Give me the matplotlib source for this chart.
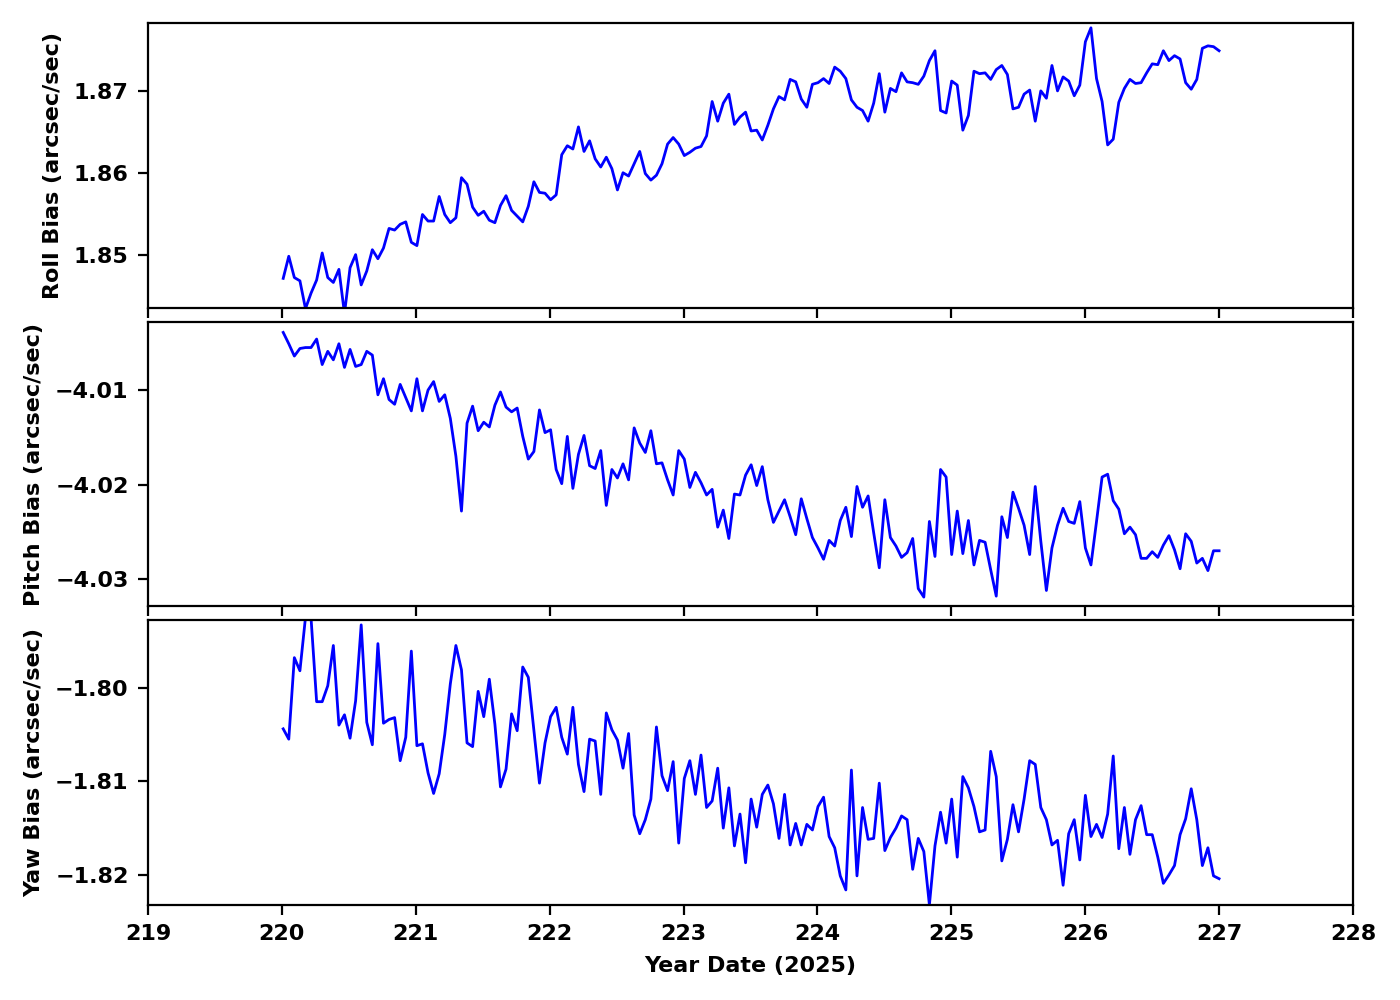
import matplotlib
matplotlib.use("Agg")
import matplotlib.pyplot as plt
import numpy as np

# hourly gyro bias values, day 220.01 -> 227.0 (2025)
t_start = 220.01
t_end = 227.0

roll = [
    1.8471, 1.8498, 1.8472, 1.8468, 1.8434, 1.8453, 1.8469, 1.8502, 1.8472, 1.8466,
    1.8482, 1.8428, 1.8484, 1.8500, 1.8463, 1.8480, 1.8506, 1.8495, 1.8508, 1.8532,
    1.8530, 1.8537, 1.8540, 1.8515, 1.8511, 1.8549, 1.8541, 1.8541, 1.8571, 1.8549,
    1.8539, 1.8545, 1.8594, 1.8586, 1.8558, 1.8548, 1.8553, 1.8542, 1.8539, 1.8560,
    1.8572, 1.8554, 1.8547, 1.8540, 1.8559, 1.8589, 1.8576, 1.8575, 1.8567, 1.8573,
    1.8622, 1.8633, 1.8629, 1.8656, 1.8626, 1.8639, 1.8617, 1.8607,
    1.8619, 1.8605, 1.8579, 1.8600, 1.8596, 1.8611, 1.8626, 1.8599, 1.8591, 1.8597,
    1.8611, 1.8635, 1.8643, 1.8635, 1.8621, 1.8625, 1.8630, 1.8632, 1.8645, 1.8687,
    1.8663, 1.8685, 1.8696, 1.8659, 1.8668, 1.8674, 1.8651, 1.8652, 1.8640, 1.8658,
    1.8678, 1.8693, 1.8689, 1.8714, 1.8711, 1.8690, 1.8680, 1.8708, 1.8710, 1.8715,
    1.8709, 1.8729, 1.8724, 1.8715, 1.8689, 1.8680, 1.8676, 1.8663, 1.8685, 1.8721,
    1.8674, 1.8703, 1.8699, 1.8722, 1.8711, 1.8710, 1.8708,
    1.8718, 1.8737, 1.8749, 1.8676, 1.8673, 1.8712, 1.8707, 1.8652, 1.8670, 1.8724,
    1.8721, 1.8722, 1.8714, 1.8726, 1.8731, 1.8720, 1.8678, 1.8680, 1.8696, 1.8701,
    1.8663, 1.8700, 1.8691, 1.8731, 1.8700, 1.8717, 1.8712, 1.8694, 1.8707, 1.8760,
    1.8777, 1.8715, 1.8687, 1.8634, 1.8641, 1.8686, 1.8703, 1.8714, 1.8709, 1.8710,
    1.8722, 1.8733, 1.8732, 1.8749, 1.8737, 1.8743, 1.8739, 1.8710, 1.8702, 1.8714,
    1.8752, 1.8755, 1.8754, 1.8749,
]

pitch = [
    -4.0039, -4.0051, -4.0064, -4.0056, -4.0055, -4.0055, -4.0046, -4.0073, -4.0059, -4.0068,
    -4.0051, -4.0076, -4.0057, -4.0075, -4.0073, -4.0059, -4.0063, -4.0105, -4.0088, -4.0110,
    -4.0115, -4.0094, -4.0108, -4.0122, -4.0088, -4.0122, -4.0100, -4.0091, -4.0112, -4.0105,
    -4.0130, -4.0170, -4.0228, -4.0135, -4.0117, -4.0143, -4.0134, -4.0139, -4.0116, -4.0102,
    -4.0118, -4.0123, -4.0119, -4.0149, -4.0173, -4.0165, -4.0121, -4.0145, -4.0142, -4.0184,
    -4.0199, -4.0149, -4.0204, -4.0168, -4.0148, -4.0180, -4.0183, -4.0164,
    -4.0222, -4.0184, -4.0193, -4.0178, -4.0195, -4.0140, -4.0156, -4.0166, -4.0143, -4.0178,
    -4.0177, -4.0195, -4.0211, -4.0164, -4.0173, -4.0203, -4.0187, -4.0198, -4.0211, -4.0205,
    -4.0245, -4.0227, -4.0257, -4.0210, -4.0211, -4.0190, -4.0179, -4.0201, -4.0181, -4.0216,
    -4.0240, -4.0228, -4.0216, -4.0234, -4.0253, -4.0215, -4.0236, -4.0256, -4.0267, -4.0279,
    -4.0259, -4.0265, -4.0238, -4.0224, -4.0255, -4.0202, -4.0224, -4.0212, -4.0251, -4.0288,
    -4.0216, -4.0256, -4.0265, -4.0277, -4.0272, -4.0257, -4.0310,
    -4.0319, -4.0239, -4.0276, -4.0184, -4.0192, -4.0274, -4.0228, -4.0273, -4.0238, -4.0285,
    -4.0259, -4.0261, -4.0290, -4.0318, -4.0234, -4.0256, -4.0208, -4.0225, -4.0243, -4.0274,
    -4.0202, -4.0260, -4.0312, -4.0267, -4.0243, -4.0225, -4.0239, -4.0241, -4.0218, -4.0267,
    -4.0285, -4.0239, -4.0192, -4.0189, -4.0217, -4.0226, -4.0252, -4.0245, -4.0253, -4.0278,
    -4.0278, -4.0271, -4.0277, -4.0264, -4.0254, -4.0269, -4.0289, -4.0252, -4.0260, -4.0283,
    -4.0278, -4.0291, -4.0270, -4.0270,
]

yaw = [
    -1.8044, -1.8055, -1.7968, -1.7982, -1.7925, -1.7926, -1.8015, -1.8015, -1.7998, -1.7955,
    -1.8040, -1.8029, -1.8054, -1.8014, -1.7933, -1.8037, -1.8061, -1.7953, -1.8038, -1.8034,
    -1.8032, -1.8078, -1.8053, -1.7961, -1.8062, -1.8060, -1.8091, -1.8113, -1.8092, -1.8050,
    -1.7996, -1.7955, -1.7981, -1.8059, -1.8063, -1.8004, -1.8031, -1.7991, -1.8039, -1.8106,
    -1.8087, -1.8028, -1.8046, -1.7978, -1.7989, -1.8046, -1.8102, -1.8059, -1.8031, -1.8021,
    -1.8053, -1.8071, -1.8021, -1.8082, -1.8111, -1.8055, -1.8057, -1.8114,
    -1.8027, -1.8045, -1.8056, -1.8086, -1.8049, -1.8136, -1.8156, -1.8141, -1.8119, -1.8042,
    -1.8094, -1.8110, -1.8079, -1.8166, -1.8097, -1.8078, -1.8114, -1.8072, -1.8128, -1.8121,
    -1.8086, -1.8150, -1.8107, -1.8169, -1.8135, -1.8187, -1.8119, -1.8149, -1.8114, -1.8104,
    -1.8124, -1.8161, -1.8114, -1.8168, -1.8145, -1.8168, -1.8146, -1.8152, -1.8127, -1.8117,
    -1.8159, -1.8171, -1.8201, -1.8216, -1.8088, -1.8201, -1.8128, -1.8162, -1.8161, -1.8102,
    -1.8174, -1.8160, -1.8150, -1.8137, -1.8141, -1.8194, -1.8161,
    -1.8175, -1.8232, -1.8169, -1.8133, -1.8166, -1.8119, -1.8181, -1.8095, -1.8107, -1.8127,
    -1.8154, -1.8152, -1.8068, -1.8095, -1.8185, -1.8162, -1.8125, -1.8154, -1.8119, -1.8078,
    -1.8082, -1.8128, -1.8141, -1.8168, -1.8163, -1.8211, -1.8156, -1.8141, -1.8184, -1.8115,
    -1.8159, -1.8146, -1.8160, -1.8135, -1.8073, -1.8172, -1.8128, -1.8178, -1.8141, -1.8126,
    -1.8157, -1.8157, -1.8181, -1.8209, -1.8200, -1.8190, -1.8157, -1.8140, -1.8108, -1.8141,
    -1.8190, -1.8171, -1.8201, -1.8204,
]

series = [roll, pitch, yaw]
ylabels = ['Roll Bias (arcsec/sec)', 'Pitch Bias (arcsec/sec)', 'Yaw Bias (arcsec/sec)']
ylims = [(1.84354, 1.87829), (-4.03287, -4.00277), (-1.82321, -1.79283)]

plt.rcParams['font.weight'] = 'bold'
plt.rcParams['axes.labelweight'] = 'bold'
plt.rcParams['font.size'] = 8

fig, axes = plt.subplots(3, 1, figsize=(7, 5), dpi=200, sharex=True)
fig.subplots_adjust(left=0.1057, right=0.9664, top=0.977, bottom=0.095, hspace=0.05)

for ax, vals, lab, lim in zip(axes, series, ylabels, ylims):
    t = np.linspace(t_start, t_end, len(vals))
    ax.plot(t, vals, color='blue', linewidth=1.0)
    ax.set_ylabel(lab)
    ax.set_ylim(lim)

axes[-1].set_xlim(219, 228)
axes[-1].set_xticks(range(219, 229))
axes[-1].set_xlabel('Year Date (2025)')

plt.savefig('out.png')
